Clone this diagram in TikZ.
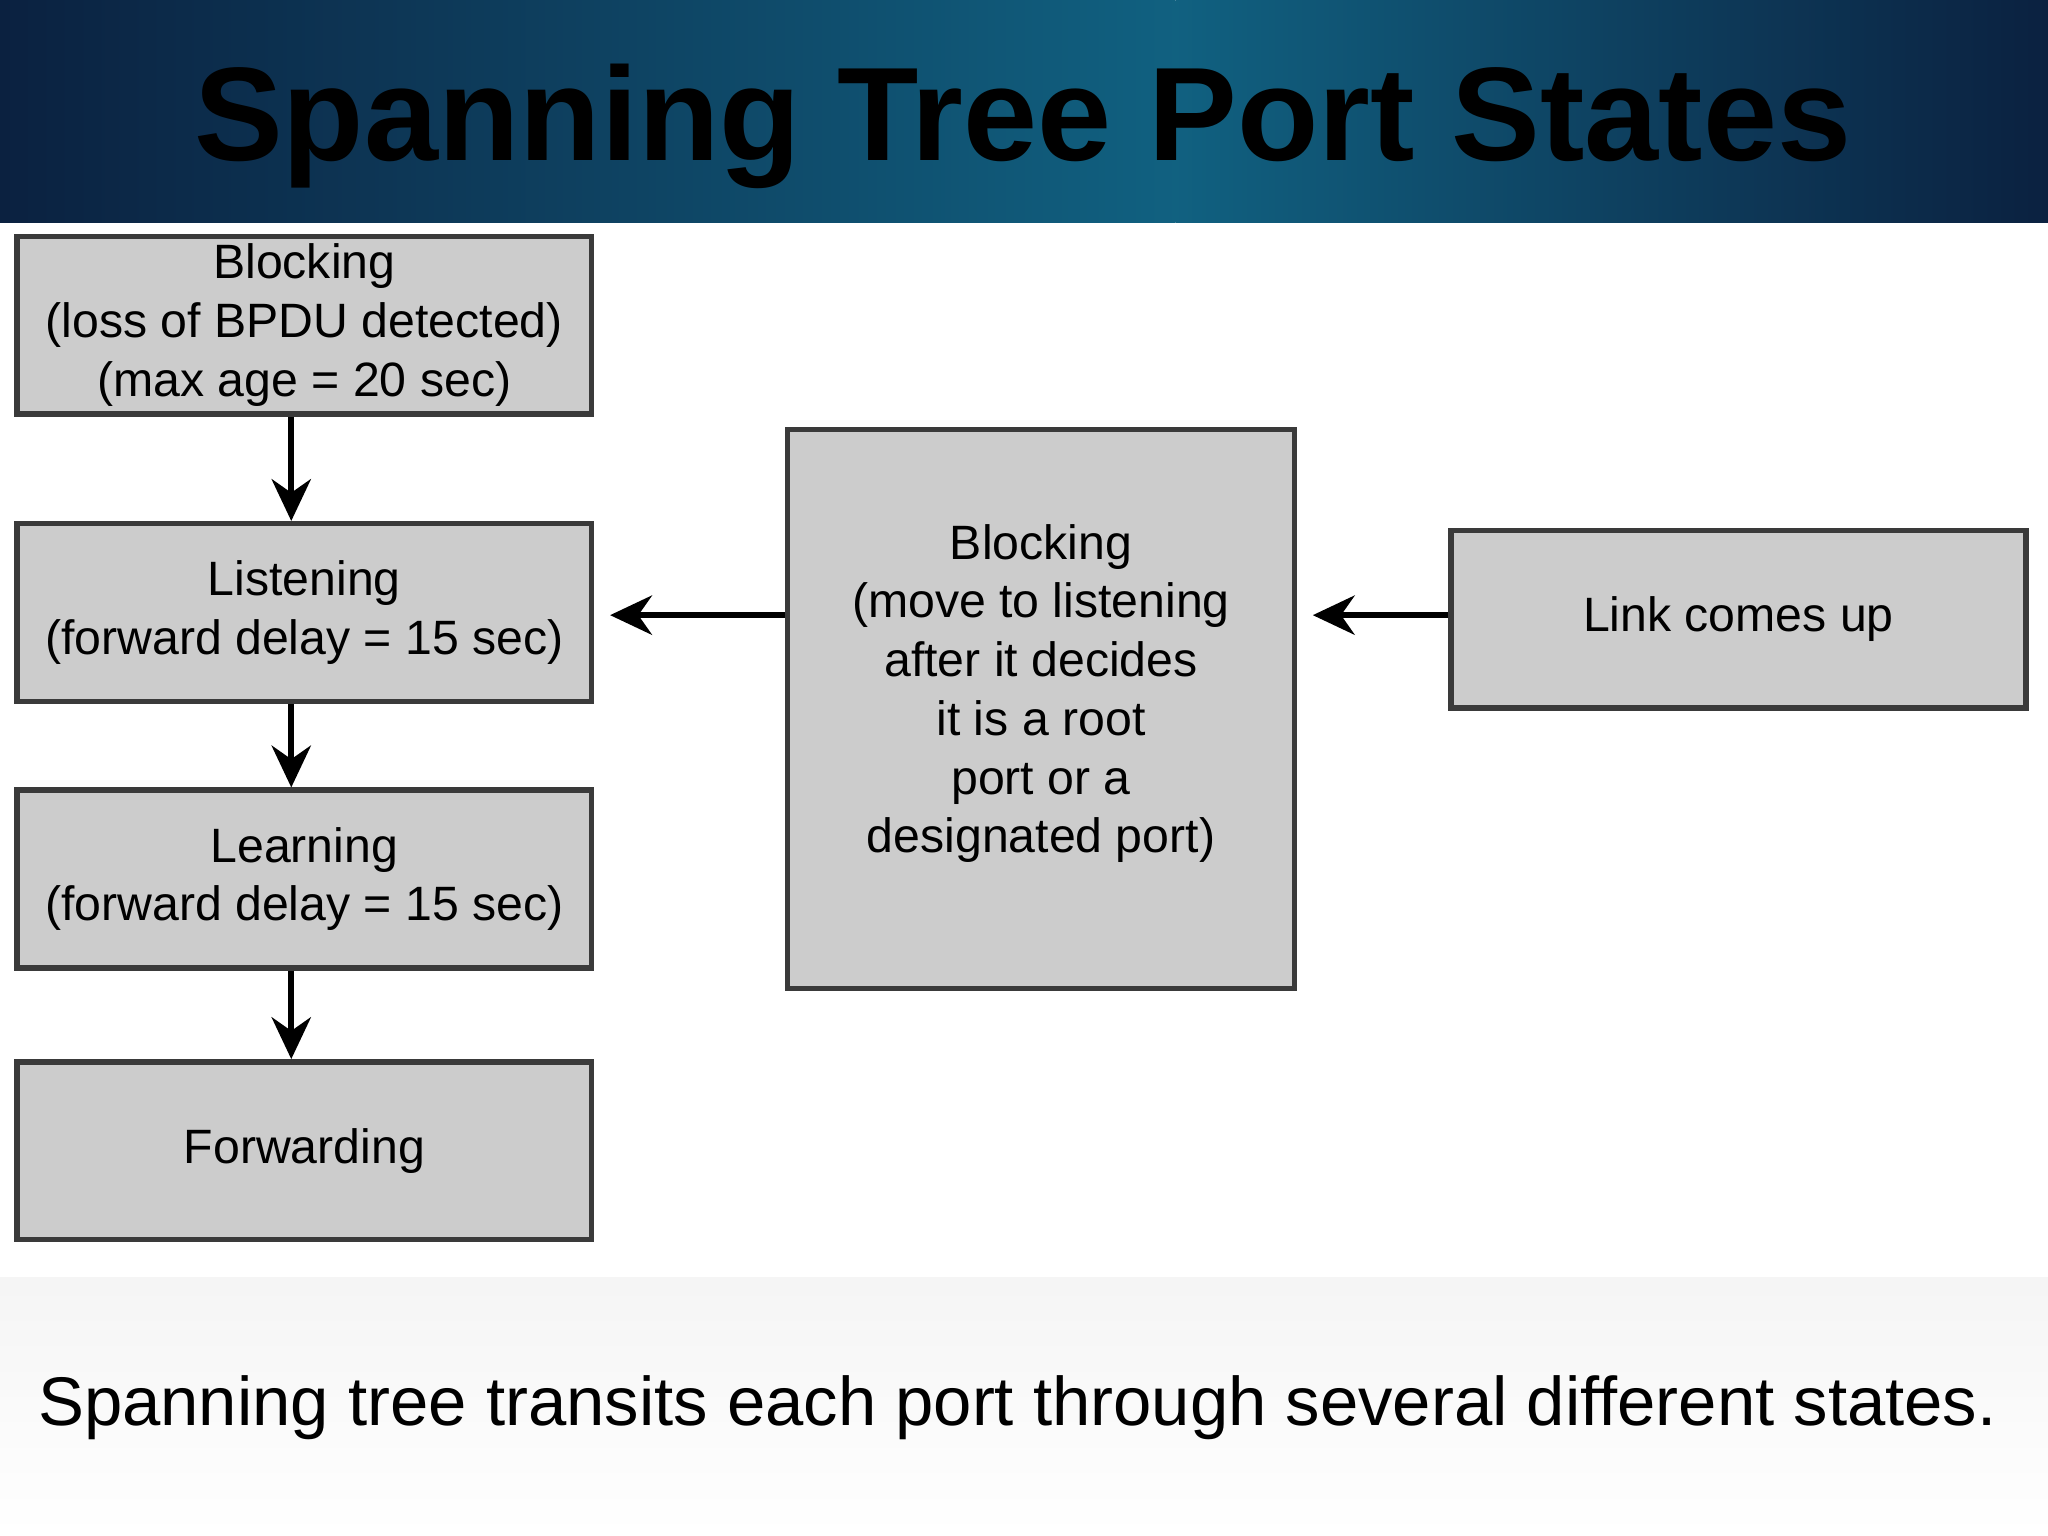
\documentclass[tikz,border=0pt]{standalone}
\usepackage{fontspec}
\setmainfont{Liberation Sans}
\usetikzlibrary{arrows.meta,positioning}

\definecolor{boxgray}{HTML}{CCCCCC}
\definecolor{edgegray}{HTML}{3A3A3A}
\definecolor{navy}{HTML}{0B2140}
\definecolor{teal}{HTML}{137C9C}

\tikzset{
    state/.style={draw=edgegray,line width=1.2pt,fill=boxgray,minimum width=4.4cm,
                  minimum height=1.36cm,align=center,inner sep=0pt,
                  font=\fontsize{10.5}{12.8}\selectfont},
    flow/.style={-{Stealth[length=3.2mm,width=3mm]},line width=1.3pt}
}

\begin{document}
\begin{tikzpicture}[x=1cm,y=1cm]
        % page frame
        \useasboundingbox (0,0) rectangle (15.68,11.76);
        \fill[white] (0,0) rectangle (15.68,11.76);

        % title band
        \shade[left color=navy,right color=teal!70!navy] (0,10.06) rectangle (9,11.76);
        \shade[left color=teal!70!navy,right color=navy] (9,10.06) rectangle (15.68,11.76);
        \node (title) at (7.83,10.79) {\fontsize{29}{32}\selectfont\bfseries Spanning Tree Port States};

        % caption band
        \shade[top color=gray!8,bottom color=white] (0,0) rectangle (15.68,1.98);
        \node (caption) at (7.79,0.98) {\fontsize{15}{18}\selectfont Spanning tree transits each port through several different states.};

        % left column of states
        \node[state] (block)   at (2.33,9.27) {Blocking\\(loss of BPDU detected)\\(max age = 20 sec)};
        \node[state] (listen)  at (2.33,7.07) {Listening\\(forward delay = 15 sec)};
        \node[state] (learn)   at (2.33,5.03) {Learning\\(forward delay = 15 sec)};
        \node[state] (forward) at (2.33,2.95) {Forwarding};

        % middle and right states
        \node[state,minimum width=3.88cm,minimum height=4.28cm] (wait) at (7.97,6.33) {};
        \node[font=\fontsize{10.5}{12.8}\selectfont,align=center] (waittext) at (7.97,6.45)
            {Blocking\\(move to listening\\after it decides\\it is a root\\port or a\\designated port)};
        \node[state] (link) at (13.31,7.02) {Link comes up};

        % transitions
        \draw[flow] (block.south -| 2.23,0) -- (listen.north -| 2.23,0);
        \draw[flow] (listen.south -| 2.23,0) -- (learn.north -| 2.23,0);
        \draw[flow] (learn.south -| 2.23,0) -- (forward.north -| 2.23,0);
        \draw[flow] (wait.west |- 0,7.05) -- ([xshift=1.2mm]listen.east |- 0,7.05);
        \draw[flow] (link.west |- 0,7.05) -- ([xshift=1.2mm]wait.east |- 0,7.05);
\end{tikzpicture}
\end{document}
